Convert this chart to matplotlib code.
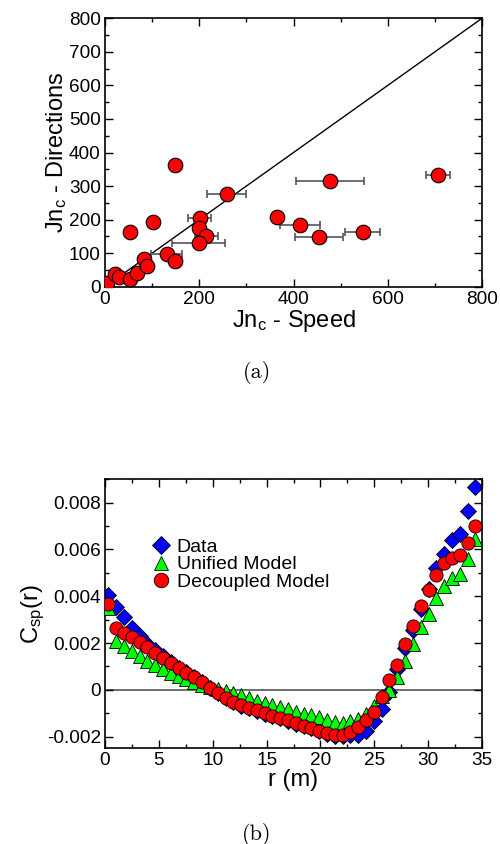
import numpy as np
import matplotlib.pyplot as plt
from matplotlib.ticker import MultipleLocator, FuncFormatter

plt.rcParams['font.family'] = ['Liberation Sans', 'DejaVu Sans']
plt.rcParams['mathtext.default'] = 'regular'

# (a) critical values: speed vs directions
speed = [5, 21, 30, 53, 67, 82, 89, 52, 101, 131, 148, 148, 201, 199,
         215, 199, 258, 364, 414, 455, 478, 547, 707]
directions = [10, 38, 28, 22, 40, 82, 63, 163, 192, 97, 76, 363, 204, 175,
              152, 129, 275, 209, 185, 147, 315, 163, 333]
speed_err = [0, 0, 0, 0, 0, 0, 0, 0, 0, 33, 0, 0, 24, 0,
             25, 56, 41, 10, 43, 51, 72, 37, 26]

# (b) correlation function C_sp(r)
r = [0.31, 1.04, 1.76, 2.49, 3.21, 3.94, 4.66, 5.39, 6.11, 6.84, 7.56, 8.29,
     9.01, 9.74, 10.46, 11.19, 11.91, 12.64, 13.36, 14.09, 14.81, 15.54, 16.26,
     16.99, 17.71, 18.44, 19.16, 19.89, 20.61, 21.34, 22.06, 22.79, 23.51,
     24.24, 24.96, 25.69, 26.41, 27.14, 27.86, 28.59, 29.31, 30.04, 30.76,
     31.49, 32.21, 32.94, 33.66, 34.39]
c_data = [0.00407, 0.00355, 0.00313, 0.00265, 0.00228, 0.00198, 0.00170,
          0.00145, 0.00118, 0.00094, 0.00075, 0.00055, 0.00033, 0.00009,
          -0.00015, -0.00035, -0.00054, -0.00068, -0.00079, -0.00090,
          -0.00102, -0.00112, -0.00122, -0.00133, -0.00145, -0.00155,
          -0.00165, -0.00176, -0.00187, -0.00196, -0.00198, -0.00192,
          -0.00195, -0.00174, -0.00134, -0.00080, -0.00010, 0.00090,
          0.00180, 0.00255, 0.00345, 0.00430, 0.00522, 0.00582, 0.00640,
          0.00667, 0.00766, 0.00866]
c_unified = [0.00350, 0.00210, 0.00186, 0.00165, 0.00145, 0.00125, 0.00107,
             0.00090, 0.00074, 0.00060, 0.00047, 0.00034, 0.00022, 0.00010,
             0.00002, -0.00005, -0.00013, -0.00024, -0.00036, -0.00046,
             -0.00056, -0.00064, -0.00074, -0.00084, -0.00093, -0.00103,
             -0.00107, -0.00117, -0.00127, -0.00138, -0.00141, -0.00134,
             -0.00124, -0.00103, -0.00070, -0.00028, 0.00000, 0.00053,
             0.00124, 0.00194, 0.00268, 0.00325, 0.00394, 0.00443, 0.00476,
             0.00496, 0.00560, 0.00646]
c_decoupled = [0.00365, 0.00263, 0.00244, 0.00225, 0.00206, 0.00182, 0.00158,
               0.00137, 0.00114, 0.00092, 0.00074, 0.00054, 0.00032, 0.00009,
               -0.00015, -0.00034, -0.00053, -0.00067, -0.00077, -0.00088,
               -0.00100, -0.00110, -0.00120, -0.00131, -0.00143, -0.00153,
               -0.00162, -0.00174, -0.00185, -0.00194, -0.00195, -0.00181,
               -0.00157, -0.00131, -0.00093, -0.00032, 0.00040, 0.00107,
               0.00194, 0.00274, 0.00359, 0.00427, 0.00490, 0.00541, 0.00564,
               0.00578, 0.00627, 0.00699]

fig = plt.figure(figsize=(5, 8.44), dpi=100)
ax1 = fig.add_axes([0.21, 0.6603, 0.754, 0.318])
ax2 = fig.add_axes([0.21, 0.1134, 0.754, 0.3187])

tick_fs = 13.7
label_fs = 17


def style_axes(ax):
    ax.tick_params(which='both', direction='in', top=True, right=True,
                   labelsize=tick_fs, width=1, pad=3)
    ax.tick_params(which='major', length=6)
    ax.tick_params(which='minor', length=3)
    for s in ax.spines.values():
        s.set_linewidth(1.2)


# ---- panel (a)
ax1.plot([0, 800], [0, 800], color='black', lw=1, zorder=1)
ax1.errorbar(speed, directions, xerr=speed_err, fmt='none', ecolor='#555555',
             elinewidth=1.2, capsize=3, capthick=1.2, zorder=2)
ax1.plot(speed, directions, 'o', ms=10.5, mfc='#ff0000', mec='black',
         mew=0.8, zorder=3)
ax1.set_xlim(0, 800)
ax1.set_ylim(0, 800)
ax1.xaxis.set_major_locator(MultipleLocator(200))
ax1.xaxis.set_minor_locator(MultipleLocator(100))
ax1.yaxis.set_major_locator(MultipleLocator(100))
ax1.yaxis.set_minor_locator(MultipleLocator(50))
ax1.set_xlabel('Jn$_c$ - Speed', fontsize=label_fs, labelpad=0)
ax1.set_ylabel('Jn$_c$ - Directions', fontsize=label_fs, labelpad=0)
style_axes(ax1)

# ---- panel (b)
ax2.axhline(0, color='#555555', lw=1.2, zorder=1)
ax2.plot(r, c_data, 'D', ms=8, mfc='#0000ff', mec='black', mew=0.6,
         label='Data', zorder=2)
ax2.plot(r, c_unified, '^', ms=9.5, mfc='#00ff00', mec='black', mew=0.6,
         label='Unified Model', zorder=3)
ax2.plot(r, c_decoupled, 'o', ms=9.5, mfc='#ff0000', mec='black', mew=0.6,
         label='Decoupled Model', zorder=4)
ax2.set_xlim(0, 35)
ax2.set_ylim(-0.0025, 0.009)
ax2.xaxis.set_major_locator(MultipleLocator(5))
ax2.xaxis.set_minor_locator(MultipleLocator(2.5))
ax2.yaxis.set_major_locator(MultipleLocator(0.002))
ax2.yaxis.set_minor_locator(MultipleLocator(0.001))
ax2.yaxis.set_major_formatter(FuncFormatter(lambda v, p: f'{round(v, 4):g}'))
ax2.set_xlabel('r (m)', fontsize=label_fs, labelpad=0)
ax2.set_ylabel('C$_{sp}$(r)', fontsize=label_fs, labelpad=0)
style_axes(ax2)
ax2.legend(loc='upper left', bbox_to_anchor=(0.1, 0.81), frameon=False,
           fontsize=14, handletextpad=0.25, labelspacing=0.0,
           handlelength=1.1, borderaxespad=0, markerscale=1.1)

fig.text(0.514, 1 - 372 / 844, '(a)', family='cmr10', fontsize=16,
         ha='center', va='center')
fig.text(0.514, 1 - 834 / 844, '(b)', family='cmr10', fontsize=16,
         ha='center', va='center')

fig.savefig('out.png', dpi=100)
